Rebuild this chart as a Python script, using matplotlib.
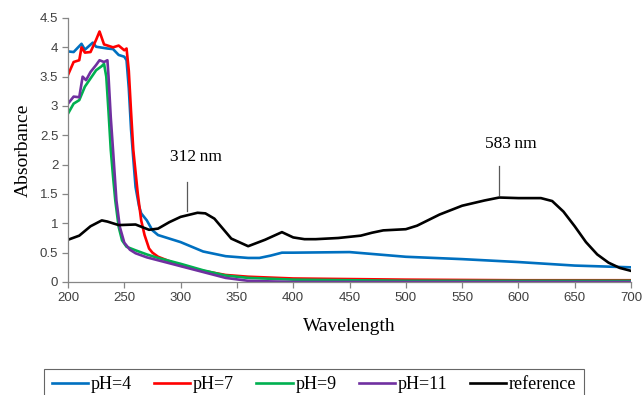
import matplotlib
matplotlib.use("Agg")
import matplotlib.pyplot as plt

# --- data ---
wl_ph4 = [200, 205, 212, 215, 222, 225, 235, 240, 245, 250, 252, 254, 256, 258, 260, 263, 265, 270, 275, 280, 300, 320, 340, 360, 370, 380, 390, 400, 450, 500, 550, 600, 650, 700]
ab_ph4 = [3.93, 3.92, 4.06, 3.96, 4.08, 4.01, 3.98, 3.97, 3.87, 3.84, 3.78, 3.3, 2.6, 2.1, 1.62, 1.3, 1.17, 1.05, 0.88, 0.8, 0.68, 0.52, 0.44, 0.41, 0.41, 0.45, 0.5, 0.5, 0.51, 0.43, 0.39, 0.34, 0.28, 0.25]

wl_ph7 = [200, 205, 210, 212, 215, 220, 225, 228, 232, 240, 245, 250, 252, 254, 256, 258, 262, 265, 268, 272, 275, 280, 300, 320, 340, 360, 400, 500, 600, 700]
ab_ph7 = [3.53, 3.75, 3.78, 4.0, 3.91, 3.92, 4.13, 4.27, 4.05, 4.0, 4.03, 3.95, 3.98, 3.6, 2.9, 2.25, 1.5, 1.05, 0.8, 0.57, 0.5, 0.43, 0.28, 0.19, 0.12, 0.09, 0.06, 0.04, 0.03, 0.03]

wl_ph9 = [200, 205, 210, 215, 220, 225, 230, 232, 234, 236, 238, 240, 242, 245, 248, 252, 260, 270, 280, 300, 320, 340, 360, 400, 500, 600, 700]
ab_ph9 = [2.87, 3.04, 3.1, 3.33, 3.47, 3.61, 3.68, 3.72, 3.5, 2.9, 2.25, 1.8, 1.39, 0.94, 0.71, 0.6, 0.54, 0.47, 0.41, 0.31, 0.2, 0.11, 0.07, 0.04, 0.02, 0.02, 0.02]

wl_ph11 = [200, 205, 210, 213, 216, 220, 225, 228, 232, 235, 236, 238, 240, 243, 246, 250, 255, 260, 270, 280, 300, 320, 340, 360, 400, 500, 600, 700]
ab_ph11 = [3.04, 3.16, 3.15, 3.5, 3.44, 3.58, 3.7, 3.78, 3.75, 3.78, 3.5, 2.8, 2.25, 1.39, 0.94, 0.67, 0.55, 0.49, 0.42, 0.37, 0.27, 0.17, 0.07, 0.02, 0.0, 0.0, 0.0, 0.0]

wl_ref = [200, 210, 220, 230, 235, 245, 260, 272, 280, 290, 300, 315, 322, 330, 345, 360, 375, 390, 400, 410, 420, 440, 460, 470, 480, 500, 510, 530, 550, 570, 583, 600, 620, 630, 640, 650, 660, 670, 680, 690, 700]
ab_ref = [0.72, 0.79, 0.95, 1.05, 1.03, 0.97, 0.98, 0.89, 0.91, 1.02, 1.11, 1.18, 1.17, 1.08, 0.74, 0.61, 0.72, 0.85, 0.76, 0.73, 0.73, 0.75, 0.79, 0.84, 0.88, 0.9, 0.96, 1.15, 1.3, 1.39, 1.44, 1.43, 1.43, 1.38, 1.2, 0.95, 0.68, 0.47, 0.33, 0.24, 0.19]

series_labels = ["pH=4", "pH=7", "pH=9", "pH=11", "reference"]
series_colors = ["#0070C0", "#FF0000", "#00B050", "#7030A0", "#000000"]

peak_labels = ["312\u2009nm", "583\u2009nm"]
peak_line_x = [305.5, 583]
peak_line_y = [(1.21, 1.70), (1.48, 1.98)]
peak_text_xy = [(314, 2.13), (593, 2.35)]

xticks = [200, 250, 300, 350, 400, 450, 500, 550, 600, 650, 700]
yticks = [0, 0.5, 1, 1.5, 2, 2.5, 3, 3.5, 4, 4.5]
ytick_labels = ["0", "0.5", "1", "1.5", "2", "2.5", "3", "3.5", "4", "4.5"]

serif = ["Liberation Serif", "DejaVu Serif"]
sans = ["Liberation Sans", "DejaVu Sans"]

fig = plt.figure(figsize=(6.42, 3.95), dpi=100)
ax = fig.add_axes([68 / 642, 1 - 282 / 395, (631 - 68) / 642, (282 - 18) / 395])

xs = [wl_ph4, wl_ph7, wl_ph9, wl_ph11, wl_ref]
ys = [ab_ph4, ab_ph7, ab_ph9, ab_ph11, ab_ref]
handles = []
for x, y, lab, c in zip(xs, ys, series_labels, series_colors):
    h, = ax.plot(x, y, color=c, lw=1.9, label=lab, solid_joinstyle="round")
    handles.append(h)

for lx, (y0, y1), (tx, ty), txt in zip(peak_line_x, peak_line_y, peak_text_xy, peak_labels):
    ax.plot([lx, lx], [y0, y1], color="#595959", lw=0.9)
    ax.text(tx, ty, txt, ha="center", va="center", fontsize=12.5, family=serif)

ax.set_xlim(200, 700)
ax.set_ylim(0, 4.5)
ax.set_xticks(xticks)
ax.set_yticks(yticks)
ax.set_yticklabels(ytick_labels)
for sp in ["top", "right"]:
    ax.spines[sp].set_visible(False)
for sp in ["left", "bottom"]:
    ax.spines[sp].set_color("#868686")
    ax.spines[sp].set_linewidth(0.9)
ax.tick_params(axis="both", direction="out", length=4, width=0.9, color="#868686",
               labelsize=9.5, labelcolor="#404040", pad=3)
for lbl in ax.get_xticklabels() + ax.get_yticklabels():
    lbl.set_family(sans)

ax.set_xlabel("Wavelength", fontsize=14, family=serif, labelpad=10)
ax.set_ylabel("Absorbance", fontsize=14, family=serif, labelpad=6)

leg = fig.legend(handles=handles, labels=series_labels, loc="upper center",
                 bbox_to_anchor=(314 / 642, 1 - 369 / 395), ncol=5, frameon=True,
                 fancybox=False, edgecolor="#404040", handlelength=2.0,
                 handletextpad=0.15, columnspacing=1.25, borderpad=0.4,
                 borderaxespad=0.0, prop={"family": serif, "size": 13})
leg.get_frame().set_linewidth(0.8)

fig.savefig("out.png", dpi=100)
